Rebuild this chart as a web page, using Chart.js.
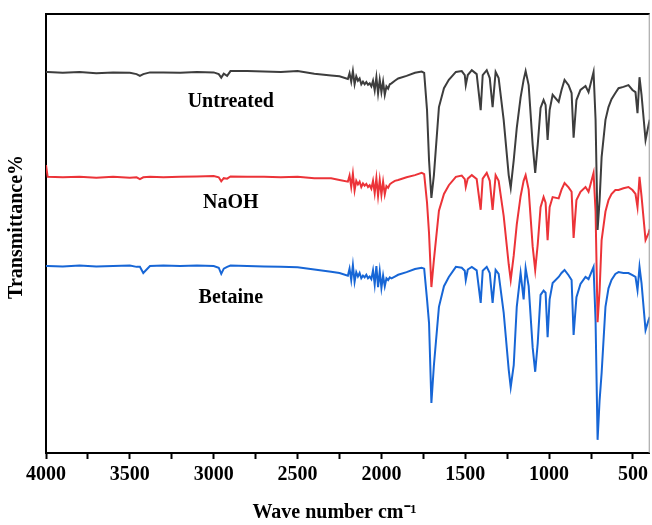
<!DOCTYPE html>
<html>
<head>
    <title>FTIR spectra</title>
    <script src="https://cdn.jsdelivr.net/npm/chart.js@4.4.1/dist/chart.umd.min.js"></script>
    <style>
        body { margin: 0; background: #fff; }
    </style>
</head>
<body>
    <canvas id="chartCanvas" width="652" height="525"></canvas>

    <script>
        // Wave numbers (cm-1) shared by all three spectra
        const waveNumbers = [
            4000, 3990, 3900, 3800, 3700, 3600, 3500, 3460, 3440, 3420,
            3380, 3300, 3200, 3100, 3000, 2970, 2955, 2940, 2920, 2900,
            2800, 2700, 2600, 2500, 2400, 2300, 2250,
            2200, 2190, 2180, 2170, 2160, 2150, 2140, 2130, 2120, 2110,
            2100, 2090, 2080, 2070, 2060, 2050, 2040, 2030, 2020, 2010,
            2000, 1990, 1980, 1970, 1960, 1950, 1940, 1920, 1900,
            1850, 1800, 1760, 1745, 1728, 1716, 1702,
            1687, 1657, 1627, 1598, 1556, 1521, 1503, 1497, 1485, 1461,
            1432, 1408, 1396, 1372, 1354, 1337, 1319, 1301, 1271, 1241,
            1229, 1211, 1193, 1170, 1152, 1140, 1122, 1098, 1083, 1068,
            1051, 1033, 1021, 1009, 997, 979, 943, 926, 908, 884,
            866, 854, 837, 813, 783, 765, 735, 723, 711, 699,
            687, 664, 646, 628, 605, 586, 557, 527, 503, 485,
            473, 461, 449, 425, 407, 400
        ];

        // Transmittance (offset spectra, arbitrary units)
        const untreated = [
            86.8, 86.8, 86.6, 86.8, 86.5, 86.7, 86.6, 86.3, 85.9, 86.3,
            86.7, 86.7, 86.6, 86.8, 86.7, 86.3, 85.5, 86.4, 85.9, 87.0,
            87.0, 86.9, 86.8, 87.0, 86.4, 86.0, 85.8,
            85.2, 86.5, 84.6, 87.0, 84.0, 85.8, 84.8, 85.3, 84.0, 84.6,
            84.0, 84.5, 83.9, 84.2, 83.5, 84.8, 82.6, 85.6, 81.9, 85.0,
            82.2, 84.6, 81.6, 83.5, 83.0, 84.0, 84.2, 84.8, 85.3,
            85.9, 86.6, 86.9, 86.6, 78.1, 66.7, 58.1,
            63.3, 78.8, 83.1, 85.0, 86.8, 87.0, 86.1, 83.8, 86.1, 87.2,
            86.3, 78.1, 86.1, 87.2, 85.4, 78.8, 86.8, 85.4, 75.9, 63.3,
            60.4, 66.7, 74.0, 81.0, 85.0, 87.0, 83.8, 70.2, 63.8, 70.2,
            78.6, 80.4, 79.3, 71.3, 78.1, 81.6, 80.0, 82.7, 85.0, 83.8,
            82.0, 71.8, 80.4, 82.7, 83.6, 82.2, 86.8, 75.9, 50.8, 57.6,
            67.4, 75.9, 78.8, 80.6, 82.0, 83.1, 83.4, 83.8, 82.7, 82.2,
            77.4, 85.6, 81.6, 71.3, 74.7, 75.9
        ];

        const naoh = [
            65.6, 62.9, 62.8, 62.9, 62.7, 62.9, 62.7, 62.8, 62.4, 62.8,
            62.9, 62.8, 62.9, 63.0, 63.1, 62.8, 61.9, 62.6, 62.5, 63.0,
            62.9, 62.9, 62.8, 62.9, 62.6, 62.6, 62.2,
            61.8, 63.2, 60.6, 63.6, 59.8, 62.0, 61.2, 61.8, 60.6, 61.4,
            60.9, 61.3, 60.6, 61.0, 60.2, 62.0, 59.2, 62.6, 58.6, 62.2,
            58.8, 61.8, 58.9, 60.8, 60.4, 61.2, 61.5, 62.0, 62.2,
            62.8, 63.3, 63.8, 63.5, 57.0, 50.0, 37.8,
            44.0, 55.2, 59.0, 61.0, 62.9, 63.2, 62.4, 60.6, 62.5, 63.3,
            62.4, 55.4, 62.5, 63.8, 62.0, 55.4, 63.3, 62.0, 54.0, 43.0,
            39.4, 45.0, 52.0, 58.5, 62.0, 63.3, 60.0, 47.0, 41.7, 47.5,
            56.0, 58.3, 57.0, 48.5, 56.0, 58.3, 58.0, 60.0, 61.5, 60.5,
            59.5, 49.0, 57.6, 59.5, 60.6, 59.5, 63.8, 55.0, 29.8, 37.0,
            48.5, 55.0, 57.6, 59.0, 59.9, 59.9, 60.3, 60.6, 59.9, 59.0,
            56.0, 62.9, 58.5, 48.5, 50.1, 51.0
        ];

        const betaine = [
            42.6, 42.6, 42.5, 42.7, 42.5, 42.6, 42.7, 42.4, 42.4, 41.0,
            42.6, 42.7, 42.6, 42.7, 42.6, 42.2, 40.8, 42.0, 42.4, 42.7,
            42.6, 42.5, 42.4, 42.3, 41.8, 41.3, 41.0,
            40.4, 42.0, 39.4, 42.8, 39.0, 41.2, 40.2, 41.0, 39.8, 40.4,
            40.0, 40.6, 39.8, 40.2, 39.6, 41.6, 38.4, 42.6, 37.8, 41.4,
            37.6, 40.4, 38.0, 39.8, 39.4, 40.0, 39.8, 40.2, 40.6,
            41.2, 41.9, 42.2, 42.0, 35.0, 29.6, 11.4,
            20.0, 33.3, 38.0, 40.1, 42.4, 42.2, 41.5, 39.4, 41.8, 42.4,
            41.6, 34.2, 41.5, 42.4, 41.0, 34.2, 41.7, 40.8, 32.0, 19.0,
            15.0, 20.0, 33.3, 41.0, 35.0, 42.1, 38.0, 24.0, 18.5, 25.0,
            36.0, 37.0, 36.5, 26.4, 35.0, 38.7, 40.1, 41.0, 41.7, 40.5,
            39.4, 26.9, 35.5, 38.5, 40.1, 39.6, 42.4, 30.0, 3.0, 12.0,
            18.2, 33.3, 37.5, 39.4, 40.8, 41.2, 41.0, 41.0, 40.5, 40.1,
            37.1, 42.4, 38.7, 28.0, 30.3, 31.0
        ];

        const seriesNames = ['Untreated', 'NaOH', 'Betaine'];
        const tickValues = [4000, 3750, 3500, 3250, 3000, 2750, 2500, 2250, 2000, 1750, 1500, 1250, 1000, 750, 500];
        const labelValues = [4000, 3500, 3000, 2500, 2000, 1500, 1000, 500];
        const xTitle = 'Wave number cm⁻¹';
        const yTitle = 'Transmittance%';

        const serif = "'Liberation Serif', 'Times New Roman', serif";

        function toPoints(ys) {
            return waveNumbers.map((w, i) => ({ x: w, y: ys[i] }));
        }

        // Texte langa fiecare spectru, titlurile axelor + cadrul sus/dreapta
        const annotations = {
            id: 'annotations',
            afterDatasetsDraw(chart) {
                const ctx = chart.ctx;
                const xs = chart.scales.x;
                const ys = chart.scales.y;
                const spots = [[2898, 80.0], [2898, 57.0], [2898, 35.3]];
                ctx.save();
                ctx.fillStyle = '#000';
                ctx.font = 'bold 20px ' + serif;
                ctx.textAlign = 'center';
                ctx.textBaseline = 'middle';
                seriesNames.forEach((name, i) => {
                    ctx.fillText(name, xs.getPixelForValue(spots[i][0]), ys.getPixelForValue(spots[i][1]));
                });

                // titlu axa X (usor spre stanga, ca in original)
                ctx.fillText(xTitle, xs.getPixelForValue(2280), 513);
                // titlu axa Y
                ctx.save();
                ctx.translate(17, ys.getPixelForValue(51.5));
                ctx.rotate(-Math.PI / 2);
                ctx.fillText(yTitle, 0, 0);
                ctx.restore();

                const a = chart.chartArea;
                ctx.strokeStyle = '#000';
                ctx.lineWidth = 2;
                ctx.beginPath();
                ctx.moveTo(a.left - 1, a.top);
                ctx.lineTo(a.right, a.top);
                ctx.stroke();
                ctx.strokeStyle = '#999';
                ctx.lineWidth = 1;
                ctx.beginPath();
                ctx.moveTo(a.right - 0.5, a.top);
                ctx.lineTo(a.right - 0.5, a.bottom);
                ctx.stroke();
                ctx.restore();
            }
        };

        const ctx = document.getElementById('chartCanvas').getContext('2d');
        const chart = new Chart(ctx, {
            type: 'line',
            data: {
                datasets: [
                    { label: seriesNames[0], data: toPoints(untreated), borderColor: '#3d3d3d' },
                    { label: seriesNames[1], data: toPoints(naoh), borderColor: '#ec3338' },
                    { label: seriesNames[2], data: toPoints(betaine), borderColor: '#1766d6' },
                ],
            },
            options: {
                responsive: false,
                animation: false,
                layout: { padding: { top: 14, right: 1, left: 0, bottom: 0 } },
                elements: {
                    point: { radius: 0 },
                    line: { borderWidth: 2, tension: 0 },
                },
                plugins: {
                    legend: { display: false },
                    tooltip: { enabled: false },
                },
                scales: {
                    x: {
                        type: 'linear',
                        reverse: true,
                        min: 400,
                        max: 4000,
                        afterBuildTicks: (scale) => {
                            scale.ticks = tickValues.map(v => ({ value: v }));
                        },
                        afterFit: (scale) => { scale.height = 72; },
                        ticks: {
                            autoSkip: false,
                            maxRotation: 0,
                            padding: 4,
                            color: '#000',
                            font: { family: serif, size: 20, weight: 'bold' },
                            callback: (v) => labelValues.includes(v) ? String(v) : '',
                        },
                        grid: {
                            drawOnChartArea: false,
                            drawTicks: true,
                            tickLength: 6,
                            tickColor: '#000',
                            tickWidth: 2,
                        },
                        border: { color: '#000', width: 2 },
                        title: { display: false },
                    },
                    y: {
                        min: 0,
                        max: 100,
                        afterFit: (scale) => { scale.width = 46; },
                        ticks: { display: false },
                        grid: { display: false, drawTicks: false },
                        border: { color: '#000', width: 2 },
                        title: { display: false },
                    },
                },
            },
            plugins: [annotations],
        });
    </script>
</body>
</html>
